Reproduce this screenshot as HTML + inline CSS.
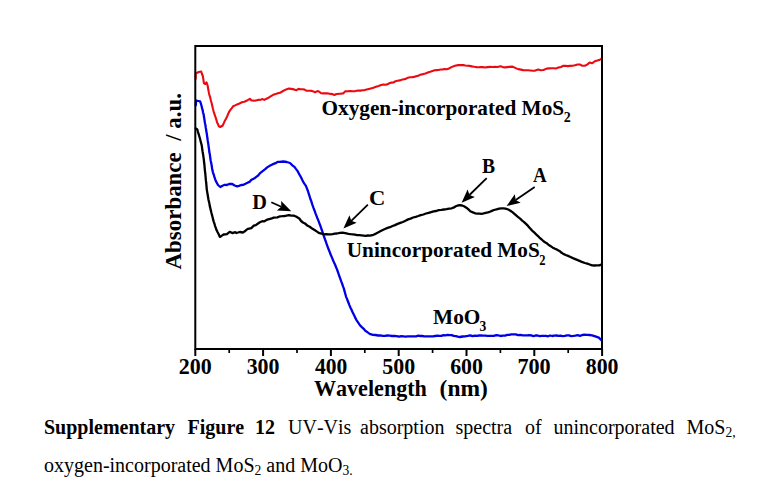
<!DOCTYPE html>
<html><head><meta charset="utf-8"><style>
html,body{margin:0;padding:0;background:#fff;}
body{width:778px;height:501px;overflow:hidden;}
svg{display:block;}
.b{font-family:"Liberation Serif",serif;font-weight:bold;}
.r{font-family:"Liberation Serif",serif;}
text{font-kerning:none;}
</style></head><body>
<svg width="778" height="501" viewBox="0 0 778 501">
<rect width="778" height="501" fill="#fff"/>
<g fill="none" stroke-linejoin="round" stroke-linecap="round">
<polyline points="195.6,79.0 195.7,76.7 195.7,75.1 195.8,73.0 197.2,72.8 198.8,72.0 201.2,71.5 202.0,74.0 202.8,76.0 203.2,78.3 203.5,80.4 203.9,83.2 205.2,84.0 206.5,82.4 207.6,85.5 208.0,87.7 208.4,90.0 208.8,92.4 209.2,94.3 209.8,96.1 210.4,98.3 211.0,101.0 211.6,103.0 212.2,105.6 212.8,108.3 213.4,110.6 214.0,112.7 214.8,115.1 215.6,117.4 216.4,119.9 217.2,122.8 218.0,124.1 218.8,126.3 220.3,127.0 222.7,125.5 223.8,123.1 224.8,120.8 225.9,119.0 227.0,116.7 228.0,114.3 229.1,111.9 230.4,109.9 231.8,108.1 233.1,106.3 235.1,105.4 237.1,104.4 239.5,103.5 241.9,102.3 244.3,101.8 246.7,100.7 249.9,98.8 251.5,100.4 254.7,100.7 257.9,99.9 261.1,99.6 262.7,99.1 264.3,99.9 267.5,98.3 270.6,96.4 273.2,94.8 275.6,94.1 278.0,93.3 280.0,92.8 283.0,91.0 286.2,89.4 288.8,88.6 291.3,88.9 294.0,89.4 296.5,90.2 298.5,88.9 300.6,89.2 302.6,89.2 304.6,89.6 306.7,90.8 309.3,90.8 311.9,90.9 315.0,92.3 317.5,91.1 319.3,91.8 321.1,93.3 323.7,93.4 326.3,93.4 328.3,93.4 330.4,93.9 332.4,94.1 334.4,95.0 336.5,94.0 340.0,93.7 343.1,93.4 345.1,91.4 347.7,91.2 350.3,91.1 352.9,91.3 355.4,91.1 358.0,90.5 360.6,90.6 362.6,90.2 364.7,90.1 366.7,89.5 368.8,89.0 370.8,88.5 373.4,87.8 376.0,86.8 378.6,86.0 381.1,85.1 383.2,84.6 385.2,84.8 387.3,84.4 389.4,83.3 391.4,82.6 393.5,82.5 395.5,81.2 397.6,80.7 399.7,80.4 401.7,79.8 403.8,79.3 405.8,78.9 407.9,77.7 409.9,77.2 411.9,77.3 414.0,76.9 416.0,76.2 418.0,75.9 420.0,74.8 423.2,74.1 425.5,73.5 427.8,72.5 430.1,71.8 432.5,71.0 434.6,70.3 436.6,70.1 438.6,70.0 440.7,69.5 442.8,69.4 444.8,69.0 446.9,69.2 448.9,68.5 452.0,66.9 455.0,65.7 458.2,65.1 460.8,65.0 463.3,65.1 465.4,65.5 467.4,65.8 469.5,65.9 471.9,66.4 474.3,66.8 476.7,67.1 478.8,67.3 480.8,67.1 482.8,67.1 484.9,67.5 487.5,67.1 490.1,66.9 492.6,67.0 495.0,66.8 497.6,67.0 500.3,66.3 502.9,67.1 505.4,67.4 509.0,66.9 512.6,66.6 515.7,68.1 518.2,69.1 520.8,69.6 523.2,70.1 525.6,70.3 528.0,70.3 530.4,70.5 532.8,70.7 535.2,70.6 538.3,69.5 540.9,70.2 543.5,70.0 546.6,68.6 549.0,68.4 551.4,68.2 553.8,68.3 555.9,68.5 558.0,67.6 561.0,67.0 563.0,65.8 565.3,65.9 567.7,66.1 570.0,65.9 572.5,65.8 575.0,65.2 577.5,64.5 580.0,64.5 582.4,65.8 584.8,65.7 587.2,64.6 589.6,62.5 592.0,63.3 595.2,61.0 597.2,60.6 599.2,60.1 601.6,58.6" stroke="#eb0a12" stroke-width="2.1"/>
<polyline points="195.8,105.4 196.0,102.7 196.2,100.5 198.4,101.0 200.1,101.4 200.9,103.7 201.7,106.5 202.1,108.6 202.6,109.8 203.0,112.3 203.5,113.8 203.9,116.3 204.3,118.8 204.6,120.8 205.0,123.2 205.4,125.0 205.7,127.4 206.1,129.5 206.4,131.6 206.8,133.7 207.1,136.1 207.4,138.0 207.7,140.4 208.1,142.9 208.4,144.9 208.7,147.1 209.0,149.2 209.3,152.0 209.7,153.7 210.0,155.7 210.3,158.1 210.6,160.2 211.0,162.1 211.4,164.1 211.8,166.2 212.1,168.8 212.5,170.3 212.9,172.3 213.7,174.5 214.4,176.9 215.2,179.4 215.9,181.1 216.9,183.0 218.0,185.0 220.3,187.0 222.5,185.7 224.7,184.8 226.9,185.0 229.1,184.0 232.3,184.0 234.6,185.5 237.1,186.4 239.0,185.9 241.2,185.0 243.5,184.8 247.0,183.0 249.9,181.6 251.1,180.0 253.1,178.9 255.0,177.9 256.6,176.6 258.2,175.5 259.8,173.4 262.0,171.6 265.2,169.2 267.2,167.4 269.2,166.1 272.4,164.4 275.6,163.2 277.6,161.9 279.6,161.8 283.2,161.5 286.8,162.0 290.0,163.0 292.4,165.3 294.7,167.2 295.9,168.9 297.1,170.4 298.2,172.2 299.2,174.1 300.3,176.0 301.4,178.1 302.4,180.2 303.5,182.3 304.7,184.1 305.9,185.8 306.9,188.4 307.9,191.0 308.8,193.8 309.6,196.3 310.3,198.7 311.1,200.7 311.8,202.9 312.5,205.1 313.3,207.4 314.1,209.5 314.9,211.6 315.7,213.9 316.5,215.9 317.3,218.0 318.1,219.9 318.9,221.9 319.6,223.8 320.3,225.7 321.0,227.6 321.6,229.5 322.3,231.4 322.9,233.1 323.6,235.4 324.2,237.1 325.0,239.4 325.8,241.5 326.6,243.9 327.4,246.1 328.2,248.3 329.0,250.2 329.8,252.2 330.5,254.3 331.3,256.0 332.1,257.9 332.9,259.9 333.7,261.8 334.5,263.4 335.3,265.3 336.1,267.3 336.9,269.1 337.6,271.0 338.4,273.3 339.1,275.5 339.9,277.6 340.6,279.6 341.4,281.9 342.2,283.8 343.0,286.4 343.8,288.4 344.4,290.6 345.0,292.8 345.6,295.0 346.2,297.1 347.0,298.9 347.8,301.0 348.6,303.0 349.4,305.1 350.5,307.7 351.5,309.8 352.6,312.3 353.6,314.3 354.6,316.3 355.6,318.4 356.6,320.3 357.9,322.2 359.2,324.1 360.5,325.9 362.1,327.4 363.7,328.8 365.3,330.7 367.0,331.9 368.7,333.1 370.4,334.2 373.0,334.9 375.5,335.0 378.1,335.5 380.4,335.4 382.7,335.8 385.0,335.8 387.3,335.5 389.7,335.7 392.0,336.0 394.3,335.8 396.6,336.2 399.0,336.7 401.3,336.2 403.4,336.4 405.6,336.6 407.7,336.4 409.9,336.4 412.0,336.4 414.1,336.3 416.1,336.3 418.2,335.7 420.3,336.0 422.3,336.0 424.4,336.3 426.6,336.4 428.7,336.3 430.9,336.4 433.0,336.4 435.2,336.0 437.3,335.7 439.3,335.9 441.4,335.9 443.5,335.2 445.5,335.3 447.6,334.8 449.7,335.1 451.7,335.1 453.8,335.9 455.8,336.1 457.8,336.7 459.9,337.0 462.5,336.5 465.2,336.3 467.8,335.9 470.2,335.3 472.6,336.2 475.0,335.6 477.0,335.9 479.0,335.5 481.0,335.4 483.0,335.6 485.2,335.7 487.4,335.9 489.5,335.9 491.7,335.8 493.9,335.9 496.2,335.2 498.4,335.4 500.6,336.0 502.9,335.7 505.1,335.6 507.2,334.9 509.2,334.8 511.3,334.3 513.4,334.4 515.7,334.3 518.1,335.1 520.4,334.9 522.8,335.4 525.1,335.3 527.2,335.4 529.3,335.1 531.4,335.4 533.5,336.2 535.5,335.5 537.6,335.5 539.7,336.1 541.8,335.9 543.9,335.9 546.0,335.9 548.1,336.3 550.1,335.5 552.2,336.0 554.3,335.6 556.4,335.5 558.5,335.9 560.6,335.7 562.7,336.1 564.8,335.8 566.9,335.3 569.0,335.4 571.1,336.1 573.2,335.9 575.3,335.6 577.6,335.2 580.0,335.9 582.3,335.0 584.7,334.7 587.0,334.8 589.5,335.0 592.0,335.3 595.3,336.3 598.8,337.6 601.4,340.1" stroke="#0000e6" stroke-width="2.3"/>
<polyline points="195.8,128.4 197.3,129.5 198.0,132.0 198.8,134.6 199.5,137.0 200.1,139.0 200.6,141.1 201.1,143.0 201.7,145.2 202.0,147.3 202.3,149.6 202.6,151.7 203.0,153.9 203.3,155.9 203.6,158.1 203.9,160.2 204.1,162.5 204.4,164.5 204.6,167.1 204.8,169.3 205.0,171.5 205.3,173.5 205.5,176.0 205.7,178.1 205.9,180.4 206.2,182.7 206.4,185.1 206.6,187.3 206.8,189.6 207.2,192.1 207.6,194.3 208.0,196.8 208.4,199.2 208.9,201.5 209.4,203.6 209.8,206.1 210.3,208.1 210.8,210.3 211.4,212.8 212.0,215.0 212.6,217.2 213.2,219.9 213.8,221.8 214.5,223.8 215.1,226.1 215.8,227.9 216.4,229.8 217.5,232.0 218.7,234.2 219.8,236.9 221.5,235.9 223.6,234.5 226.9,234.1 229.7,231.8 232.6,233.1 235.2,232.2 236.5,233.0 239.7,232.0 242.9,232.5 244.8,231.3 246.4,229.9 248.1,228.8 251.3,228.1 253.8,225.7 255.8,225.1 257.7,223.7 259.9,222.2 262.2,221.2 264.0,221.4 267.3,219.6 271.0,218.7 273.7,217.6 277.4,217.4 280.1,216.3 282.2,216.2 284.4,216.0 286.5,215.7 288.9,215.1 291.3,215.7 293.7,215.6 296.0,216.5 299.3,218.5 301.1,221.0 302.9,222.5 305.0,223.5 307.7,225.8 309.7,226.8 311.7,228.2 314.6,230.0 317.0,231.6 319.4,233.2 321.8,233.7 324.2,234.3 326.3,234.2 328.4,234.4 330.5,234.4 332.6,234.1 334.8,233.6 336.9,233.5 340.0,232.8 342.5,232.6 346.4,233.4 348.5,233.8 350.7,234.1 352.8,234.3 355.0,234.7 357.1,235.1 359.3,235.2 361.4,235.4 363.6,235.6 365.7,235.8 367.9,235.5 370.0,235.6 373.5,234.8 376.0,233.6 378.5,232.3 380.7,231.1 382.8,230.0 385.0,229.0 387.5,227.9 390.0,227.2 392.5,226.0 395.0,225.1 397.6,223.9 400.3,222.9 402.9,222.0 405.5,220.7 408.1,219.4 410.6,218.6 413.1,217.5 415.7,216.8 418.2,216.0 420.8,215.1 423.4,214.5 426.0,213.5 428.6,212.9 431.1,212.1 433.6,211.3 436.2,211.0 438.8,210.1 441.4,209.9 443.9,209.5 446.5,209.1 449.1,208.6 451.7,208.3 454.0,207.4 455.8,206.3 457.8,205.5 459.9,205.2 462.0,205.5 464.0,206.3 467.2,208.3 468.8,209.7 470.3,211.3 472.9,212.4 475.4,213.3 477.5,213.6 479.5,213.7 481.6,213.8 483.7,213.4 485.7,212.9 487.8,212.4 489.8,211.8 491.9,210.9 493.9,210.0 496.5,209.4 499.1,208.7 501.5,208.4 503.5,208.3 505.5,208.6 508.3,209.5 510.4,210.7 512.4,212.1 515.0,214.4 517.6,216.7 520.7,219.2 522.2,220.6 523.8,221.8 526.0,223.9 528.0,225.9 530.0,228.3 531.7,230.1 533.3,231.7 535.0,233.2 536.7,234.9 538.3,236.3 540.0,238.2 541.7,239.5 543.3,241.0 545.0,242.3 546.7,243.2 548.3,244.6 550.0,245.8 552.5,247.4 555.0,248.8 557.5,249.9 560.0,251.3 561.6,252.8 563.3,253.9 565.7,255.0 568.1,255.9 570.5,257.0 572.9,258.1 575.3,259.1 577.7,260.1 580.1,261.1 582.5,262.2 584.9,263.0 587.3,263.7 589.7,264.5 592.1,265.3 594.5,265.5 596.9,265.4 599.3,265.4 601.2,264.6" stroke="#000" stroke-width="2.3"/>
</g>
<rect x="195.3" y="46" width="406.7" height="303" fill="none" stroke="#000" stroke-width="2"/>
<line x1="195.30" y1="349" x2="195.30" y2="356" stroke="#000" stroke-width="2"/><line x1="229.20" y1="349" x2="229.20" y2="353" stroke="#000" stroke-width="1.7"/><line x1="263.10" y1="349" x2="263.10" y2="356" stroke="#000" stroke-width="2"/><line x1="297.00" y1="349" x2="297.00" y2="353" stroke="#000" stroke-width="1.7"/><line x1="330.90" y1="349" x2="330.90" y2="356" stroke="#000" stroke-width="2"/><line x1="364.80" y1="349" x2="364.80" y2="353" stroke="#000" stroke-width="1.7"/><line x1="398.70" y1="349" x2="398.70" y2="356" stroke="#000" stroke-width="2"/><line x1="432.60" y1="349" x2="432.60" y2="353" stroke="#000" stroke-width="1.7"/><line x1="466.50" y1="349" x2="466.50" y2="356" stroke="#000" stroke-width="2"/><line x1="500.40" y1="349" x2="500.40" y2="353" stroke="#000" stroke-width="1.7"/><line x1="534.30" y1="349" x2="534.30" y2="356" stroke="#000" stroke-width="2"/><line x1="568.20" y1="349" x2="568.20" y2="353" stroke="#000" stroke-width="1.7"/><line x1="602.10" y1="349" x2="602.10" y2="356" stroke="#000" stroke-width="2"/>
<text x="178.78" y="373.6" class="b" font-size="22.4" textLength="32.96" lengthAdjust="spacingAndGlyphs">200</text><text x="246.68" y="373.6" class="b" font-size="22.4" textLength="32.86" lengthAdjust="spacingAndGlyphs">300</text><text x="315.01" y="373.6" class="b" font-size="22.4" textLength="32.32" lengthAdjust="spacingAndGlyphs">400</text><text x="382.22" y="373.6" class="b" font-size="22.4" textLength="32.91" lengthAdjust="spacingAndGlyphs">500</text><text x="450.15" y="373.6" class="b" font-size="22.4" textLength="32.78" lengthAdjust="spacingAndGlyphs">600</text><text x="517.43" y="373.6" class="b" font-size="22.4" textLength="33.31" lengthAdjust="spacingAndGlyphs">700</text><text x="585.77" y="373.6" class="b" font-size="22.4" textLength="32.76" lengthAdjust="spacingAndGlyphs">800</text>
<text x="313.89" y="396.2" class="b" font-size="22.5" textLength="113.05" lengthAdjust="spacingAndGlyphs" xml:space="preserve">Wavelength</text><text x="439.57" y="396.4" class="b" font-size="22.5" textLength="48.26" lengthAdjust="spacingAndGlyphs" xml:space="preserve">(nm)</text><text transform="translate(181.2,269.52) rotate(-90)" x="0" y="0" class="b" font-size="23" textLength="176.53" lengthAdjust="spacingAndGlyphs" xml:space="preserve">Absorbance  / a.u.</text><text x="321.56" y="114.6" class="b" font-size="21" textLength="242.54" lengthAdjust="spacingAndGlyphs" xml:space="preserve">Oxygen-incorporated MoS</text><text x="563.71" y="121.5" class="b" font-size="13.8" textLength="6.99" lengthAdjust="spacingAndGlyphs" xml:space="preserve">2</text><text x="346.77" y="257.3" class="b" font-size="21" textLength="193.03" lengthAdjust="spacingAndGlyphs" xml:space="preserve">Unincorporated MoS</text><text x="539.37" y="264.5" class="b" font-size="13.8" textLength="6.26" lengthAdjust="spacingAndGlyphs" xml:space="preserve">2</text><text x="433.04" y="323.9" class="b" font-size="21" textLength="47.30" lengthAdjust="spacingAndGlyphs" xml:space="preserve">MoO</text><text x="479.49" y="331.0" class="b" font-size="13.8" textLength="6.77" lengthAdjust="spacingAndGlyphs" xml:space="preserve">3</text><text x="252.24" y="208.5" class="b" font-size="21.2" textLength="14.65" lengthAdjust="spacingAndGlyphs" xml:space="preserve">D</text><text x="368.90" y="204.9" class="b" font-size="21" textLength="16.33" lengthAdjust="spacingAndGlyphs" xml:space="preserve">C</text><text x="481.97" y="173.4" class="b" font-size="21" textLength="13.07" lengthAdjust="spacingAndGlyphs" xml:space="preserve">B</text><text x="533.11" y="182.2" class="b" font-size="21.3" textLength="13.72" lengthAdjust="spacingAndGlyphs" xml:space="preserve">A</text>
<line x1="271.3" y1="202.2" x2="281.29" y2="206.74" stroke="#000" stroke-width="1.8"/><polygon points="291.3,211.3 276.86,210.44 281.29,206.74 281.17,200.98" fill="#000"/><line x1="367.9" y1="204.6" x2="351.27" y2="220.82" stroke="#000" stroke-width="1.8"/><polygon points="343.4,228.5 349.43,215.35 351.27,220.82 356.69,222.80" fill="#000"/><line x1="486.7" y1="178.1" x2="469.46" y2="195.00" stroke="#000" stroke-width="1.8"/><polygon points="461.6,202.7 467.60,189.54 469.46,195.00 474.88,196.96" fill="#000"/><line x1="534.7" y1="186.9" x2="515.68" y2="199.89" stroke="#000" stroke-width="1.8"/><polygon points="506.6,206.1 514.81,194.19 515.68,199.89 520.68,202.78" fill="#000"/>
<g font-size="20">
<text x="44" y="434" class="b">Supplementary</text>
<text x="187.5" y="434" class="b">Figure</text>
<text x="255" y="434" class="b">12</text>
<text x="288" y="434" class="r">UV-Vis</text>
<text x="360" y="434" class="r">absorption</text>
<text x="455.5" y="434" class="r">spectra</text>
<text x="525" y="434" class="r">of</text>
<text x="553.5" y="434" class="r">unincorporated</text>
<text x="686.5" y="434" class="r">MoS<tspan font-size="13.6" dy="3">2,</tspan></text>
<text x="44" y="471.5" class="r">oxygen-incorporated MoS<tspan font-size="13.6" dy="3.2">2</tspan><tspan dy="-3.2"> and MoO</tspan><tspan font-size="13.6" dy="3.2">3.</tspan></text>
</g>

</svg>
</body></html>
